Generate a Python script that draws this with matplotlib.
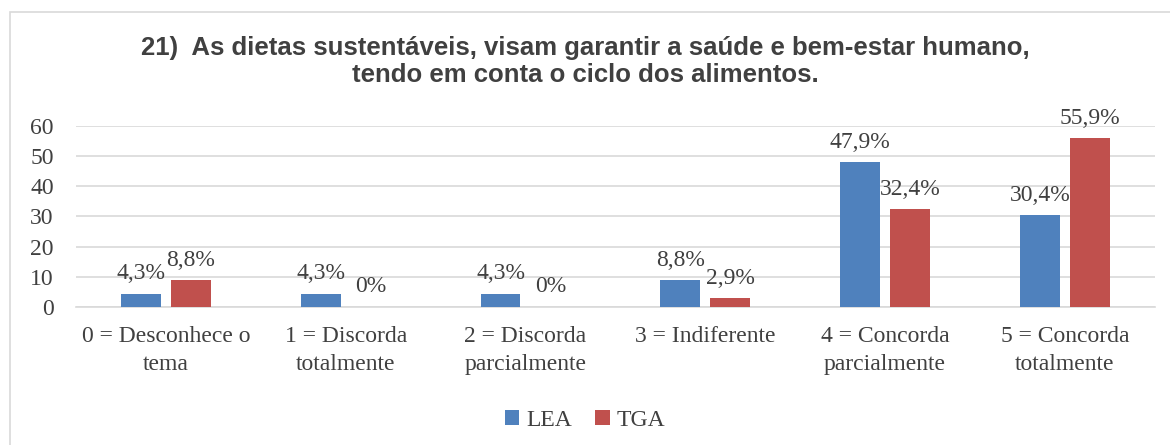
import matplotlib.pyplot as plt
import numpy as np
from matplotlib.patches import Rectangle

# data
categories = ["0 = Desconhece o\ntema", "1 = Discorda\ntotalmente", "2 = Discorda\nparcialmente",
              "3 = Indiferente", "4 = Concorda\nparcialmente", "5 = Concorda\ntotalmente"]
lea = [4.3, 4.3, 4.3, 8.8, 47.9, 30.4]
tga = [8.8, 0, 0, 2.9, 32.4, 55.9]
lea_labels = ["4,3%", "4,3%", "4,3%", "8,8%", "47,9%", "30,4%"]
tga_labels = ["8,8%", "0%", "0%", "2,9%", "32,4%", "55,9%"]

blue = "#4F81BD"
red = "#C0504D"
txt = "#404040"

plt.rcParams['font.family'] = ['Liberation Serif', 'DejaVu Serif']

fig = plt.figure(figsize=(11.7, 4.45), dpi=100)
ax = fig.add_axes([0.065, 0.31, 0.922, 0.407])

# chart border
fig.patches.append(Rectangle((10/1170, -0.01), 1.1, 1 - 12/445 + 0.01, transform=fig.transFigure,
                             fill=False, edgecolor="#D9D9D9", linewidth=1.2))

x = np.arange(len(categories))
w = 0.222
off = 0.139
b1 = ax.bar(x - off, lea, w, color=blue, label="LEA", zorder=3)
b2 = ax.bar(x + off, tga, w, color=red, label="TGA", zorder=3)

for bars, labs in ((b1, lea_labels), (b2, tga_labels)):
    for rect, lab in zip(bars, labs):
        ax.annotate(lab, (rect.get_x() + rect.get_width() / 2, rect.get_height()),
                    xytext=(0, 7), textcoords="offset points", ha="center", va="bottom",
                    fontsize=17, color=txt)

ax.set_xlim(-0.5, 5.5)
ax.set_ylim(0, 60)
ax.set_yticks(range(0, 61, 10))
ax.grid(axis="y", color="#D9D9D9", linewidth=1.2, zorder=0)
for s in ["top", "right", "left"]:
    ax.spines[s].set_visible(False)
ax.spines["bottom"].set_color("#D9D9D9")
ax.spines["bottom"].set_linewidth(1.2)
ax.tick_params(axis="both", length=0, labelsize=17, colors=txt)
ax.tick_params(axis="x", pad=14)
ax.tick_params(axis="y", pad=16)
ax.set_xticks(x)
ax.set_xticklabels(categories, linespacing=1.4)

fig.text(0.5, 0.862, "21)  As dietas sustentáveis, visam garantir a saúde e bem-estar humano,\ntendo em conta o ciclo dos alimentos.",
         ha="center", va="center", fontsize=18.5, fontweight="bold", color=txt,
         family=["Liberation Sans", "DejaVu Sans"], linespacing=1.12)

fig.legend(handles=[b1, b2], labels=["LEA", "TGA"], loc="center", bbox_to_anchor=(0.5, 0.056),
           ncol=2, frameon=False, fontsize=17, handlelength=0.6, handleheight=0.6,
           handletextpad=0.3, columnspacing=1.0, labelcolor=txt)

fig.savefig("out.png", dpi=100)
